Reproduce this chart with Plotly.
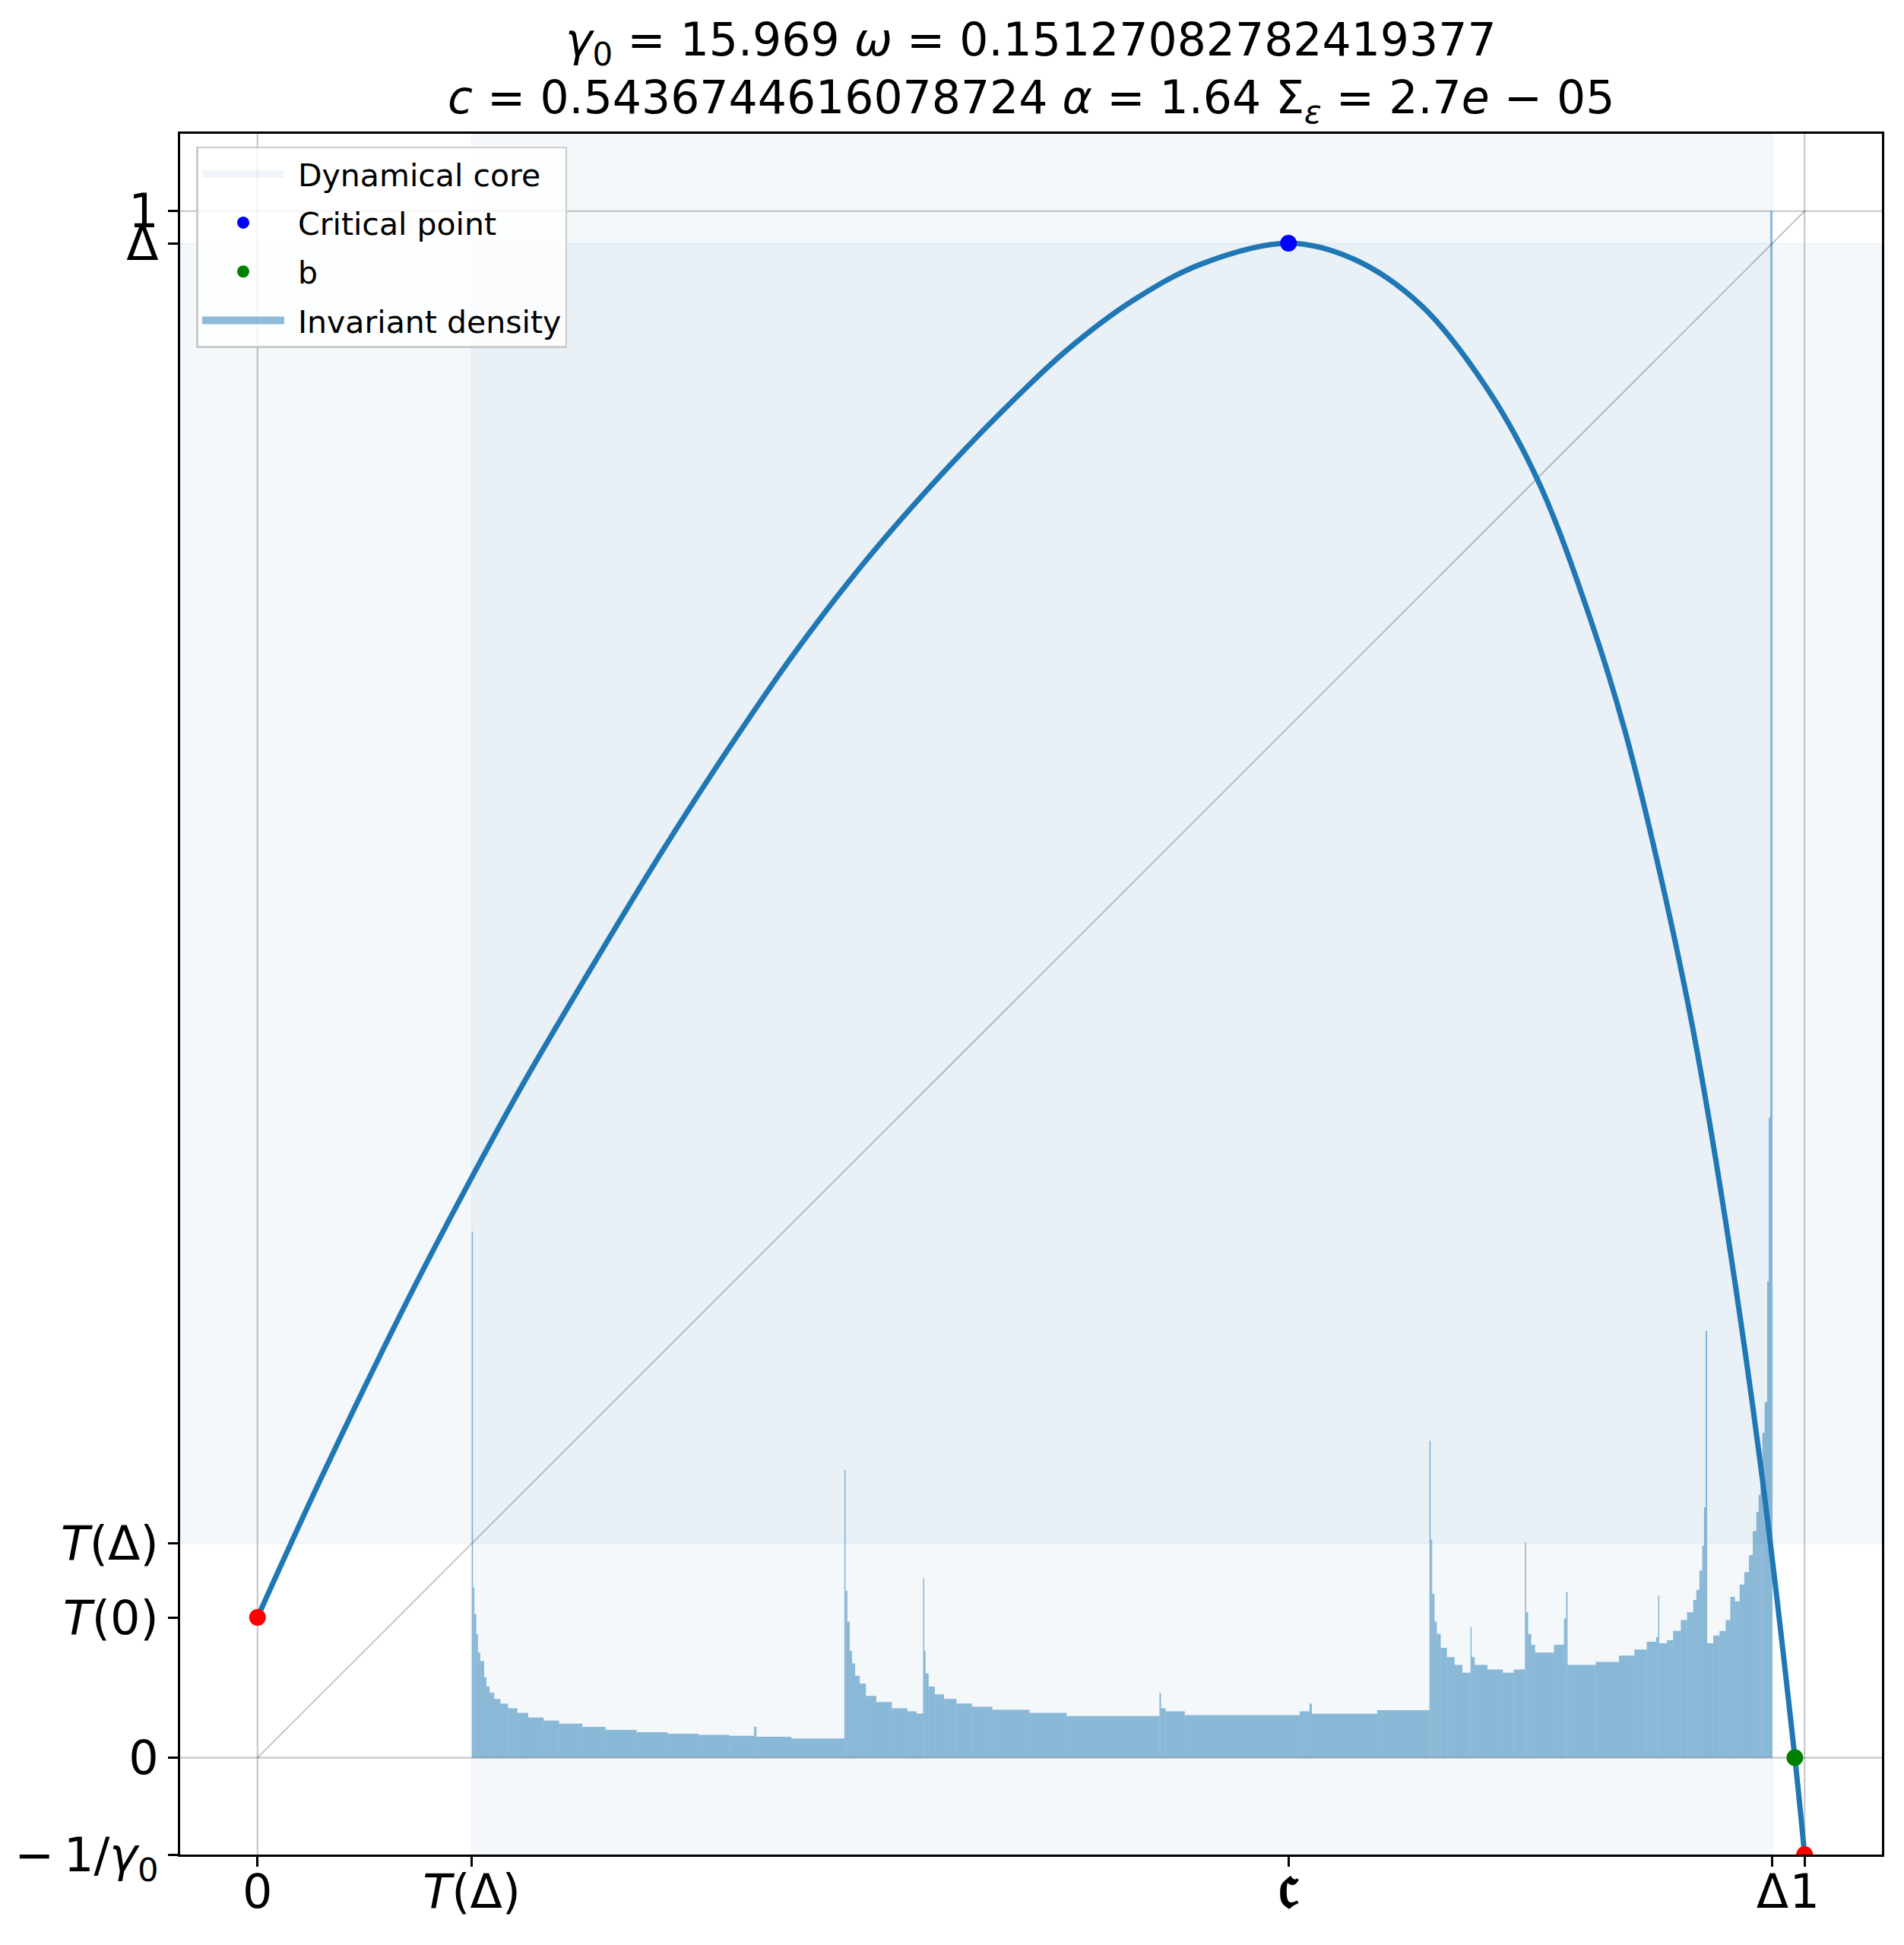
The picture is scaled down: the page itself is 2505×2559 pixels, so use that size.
import plotly.graph_objects as go

# parameters shown in the title
gamma0 = 15.969
omega = 0.15127082782419377
c_par = 0.5436744616078724
alpha = 1.64
sigma_eps = 2.7e-05

# special points of the map
crit_x = 0.6664
delta = 0.9792
t_delta = 0.1385
t_zero = 0.0907
b_x = 0.9937
y_floor = -1 / gamma0
x_lim = [-0.05, 1.05]
y_lim = [y_floor, 1.05]

# the map T(x)
curve_x = [0.0, 0.0403, 0.0971, 0.1379, 0.1716, 0.2155, 0.2594, 0.3033, 0.3472, 0.3911,
           0.4349, 0.4788, 0.5227, 0.5665, 0.6104, crit_x, 0.7084, 0.7522, 0.7961,
           0.8290, 0.8619, 0.8838, 0.9058, 0.9277, 0.9497, 0.9716, b_x, 1.0]
curve_y = [t_zero, 0.1790, 0.2960, 0.3741, 0.4356, 0.5102, 0.5826, 0.6507, 0.7144, 0.7714,
           0.8219, 0.8680, 0.9097, 0.9426, 0.9659, delta, 0.9690, 0.9390, 0.8833,
           0.8228, 0.7352, 0.6642, 0.5750, 0.4718, 0.3420, 0.1887, 0.0, y_floor]

# invariant density histogram: left bin edges and heights (last bin ends at delta)
dens_left = [0.1385, 0.1393, 0.1402, 0.1414, 0.1425, 0.1440, 0.1465, 0.1480, 0.1500, 0.1530,
             0.1570, 0.1620, 0.1680, 0.1750, 0.1850, 0.1950, 0.2100, 0.2250, 0.2450, 0.2650,
             0.2850, 0.3050, 0.3210, 0.3225, 0.3450, 0.3793, 0.3801, 0.3813, 0.3828, 0.3843,
             0.3863, 0.3893, 0.3933, 0.4000, 0.4100, 0.4200, 0.4260, 0.4302, 0.4310, 0.4318,
             0.4338, 0.4378, 0.4438, 0.4518, 0.4618, 0.4750, 0.4990, 0.5230, 0.5830, 0.5840,
             0.5870, 0.5994, 0.6736, 0.6800, 0.6815, 0.7237, 0.7575, 0.7583, 0.7593, 0.7608,
             0.7623, 0.7648, 0.7688, 0.7738, 0.7788, 0.7840, 0.7848, 0.7868, 0.7950, 0.8050,
             0.8120, 0.8192, 0.8200, 0.8213, 0.8233, 0.8258, 0.8380, 0.8445, 0.8458, 0.8468,
             0.8650, 0.8800, 0.8900, 0.8980, 0.9040, 0.9053, 0.9061, 0.9110, 0.9150, 0.9200,
             0.9240, 0.9280, 0.9300, 0.9320, 0.9338, 0.9350, 0.9360, 0.9370, 0.9410, 0.9450,
             0.9490, 0.9520, 0.9550, 0.9580, 0.9610, 0.9640, 0.9665, 0.9688, 0.9703, 0.9715,
             0.9727, 0.9742, 0.9758, 0.9768, 0.9778]
dens_h = [0.340, 0.110, 0.093, 0.080, 0.068, 0.0625, 0.052, 0.046, 0.042, 0.038,
          0.035, 0.032, 0.029, 0.026, 0.024, 0.022, 0.020, 0.018, 0.0165, 0.0155,
          0.0148, 0.0142, 0.020, 0.0135, 0.0125, 0.186, 0.108, 0.088, 0.069, 0.061,
          0.053, 0.048, 0.040, 0.036, 0.032, 0.030, 0.0285, 0.116, 0.069, 0.0545,
          0.046, 0.041, 0.038, 0.035, 0.033, 0.031, 0.029, 0.027, 0.042, 0.032,
          0.030, 0.0275, 0.030, 0.035, 0.0284, 0.0308, 0.205, 0.141, 0.106, 0.088,
          0.080, 0.071, 0.065, 0.060, 0.055, 0.0845, 0.065, 0.060, 0.057, 0.055,
          0.057, 0.139, 0.094, 0.080, 0.073, 0.068, 0.073, 0.090, 0.107, 0.060,
          0.062, 0.066, 0.070, 0.075, 0.078, 0.105, 0.074, 0.076, 0.082, 0.089,
          0.094, 0.102, 0.1085, 0.121, 0.137, 0.162, 0.276, 0.074, 0.079, 0.082,
          0.089, 0.104, 0.101, 0.112, 0.120, 0.131, 0.1465, 0.159, 0.170, 0.189,
          0.210, 0.230, 0.308, 0.414, 1.000]

dens_right = dens_left[1:] + [delta]
dens_w = [r - l for l, r in zip(dens_left, dens_right)]
dens_mid = [(l + r) / 2 for l, r in zip(dens_left, dens_right)]

FONT = "DejaVu Sans"
BLUE = "#1f77b4"
span_fill = "rgba(31,119,180,0.05)"
hist_fill = "rgba(31,119,180,0.5)"
guide = "rgba(0,0,0,0.22)"
pad = "\u00a0"

fig = go.Figure()

# histogram first so bars sit under every line
fig.add_trace(go.Bar(
    x=dens_mid, y=dens_h, width=dens_w,
    marker=dict(color=hist_fill, line=dict(width=0)),
    showlegend=False, hoverinfo="skip",
))

# guide lines x=0, x=1, y=0, y=1 and the diagonal
for xs, ys in [([0, 0], y_lim), ([1, 1], y_lim), (x_lim, [0, 0]), (x_lim, [1, 1])]:
    fig.add_trace(go.Scatter(x=xs, y=ys, mode="lines", showlegend=False,
                             line=dict(color=guide, width=2.2), hoverinfo="skip"))
fig.add_trace(go.Scatter(x=[0, 1], y=[0, 1], mode="lines", showlegend=False,
                         line=dict(color="rgba(0,0,0,0.25)", width=1.8), hoverinfo="skip"))

# the map
fig.add_trace(go.Scatter(x=curve_x, y=curve_y, mode="lines", showlegend=False,
                         line=dict(color=BLUE, width=7, shape="spline", smoothing=1.0)))

# endpoints
fig.add_trace(go.Scatter(x=[0, 1], y=[t_zero, y_floor], mode="markers", showlegend=False,
                         marker=dict(color="red", size=22)))

# legend entries (patches shown as thick legend strokes)
fig.add_trace(go.Scatter(x=[None], y=[None], mode="lines", name=pad + "Dynamical core",
                         line=dict(color="rgba(31,119,180,0.07)", width=20),
                         legendrank=1, legendgroup="c"))
fig.add_trace(go.Scatter(x=[crit_x], y=[delta], mode="markers", name=pad + "Critical point",
                         marker=dict(color="blue", size=22), legendrank=2, legendgroup="a"))
fig.add_trace(go.Scatter(x=[b_x], y=[0], mode="markers", name=pad + "b",
                         marker=dict(color="green", size=22), legendrank=3, legendgroup="b"))
fig.add_trace(go.Scatter(x=[None], y=[None], mode="lines", name=pad + "Invariant density",
                         line=dict(color=hist_fill, width=20),
                         legendrank=4, legendgroup="d"))

# dynamical core spans
fig.add_shape(type="rect", xref="x", yref="y domain", x0=t_delta, x1=delta, y0=0, y1=1,
              fillcolor=span_fill, line=dict(color=span_fill, width=2), layer="below")
fig.add_shape(type="rect", xref="x domain", yref="y", x0=0, x1=1, y0=t_delta, y1=delta,
              fillcolor=span_fill, line=dict(color=span_fill, width=2), layer="below")

title1 = "<i>γ</i><sub>0</sub> = 15.969 <i>ω</i> = 0.15127082782419377"
title2 = "<i>c</i> = 0.5436744616078724 <i>α</i> = 1.64 Σ<sub><i>ε</i></sub> = 2.7<i>e</i> − 05"
fig.add_annotation(text=title1, xref="paper", yref="paper", x=0.5, y=1.0526,
                   showarrow=False, yanchor="middle", font=dict(size=60, color="black"))
fig.add_annotation(text=title2, xref="paper", yref="paper", x=0.5, y=1.0194,
                   showarrow=False, yanchor="middle", font=dict(size=60, color="black"))

axis_common = dict(
    showgrid=False, zeroline=False, showline=True, mirror=True,
    linecolor="black", linewidth=3, ticks="outside", ticklen=13, tickwidth=3,
    tickcolor="black", tickfont=dict(family=FONT, size=62, color="black"),
    automargin=False,
)

fig.update_layout(
    width=2505, height=2559,
    margin=dict(l=229, r=37, t=168, b=127),
    paper_bgcolor="white", plot_bgcolor="white",
    font=dict(family=FONT, color="black"),
    barmode="overlay",
    xaxis=dict(range=x_lim, tickmode="array", tickangle=0, ticklabelstandoff=-20,
               tickvals=[0, t_delta, crit_x, delta, 1],
               ticktext=["0", "<i>T</i>(Δ)", "<span style='font-size:84px'><b>𝔠</b></span>", "Δ", "1"],
               **axis_common),
    yaxis=dict(range=y_lim, tickmode="array",
               tickvals=[y_floor, 0, t_zero, t_delta, delta, 1],
               ticktext=["−\u20091/<i>γ</i><sub>0</sub>", "0", "<i>T</i>(0)", "<i>T</i>(Δ)", "Δ", "1"],
               **axis_common),
    legend=dict(x=0.0096, y=0.9925, xanchor="left", yanchor="top",
                bgcolor="rgba(255,255,255,0.8)", bordercolor="#cccccc", borderwidth=2.5,
                font=dict(family=FONT, size=41), tracegroupgap=8, itemwidth=108),
    showlegend=True,
)

fig.write_html("out.html")
